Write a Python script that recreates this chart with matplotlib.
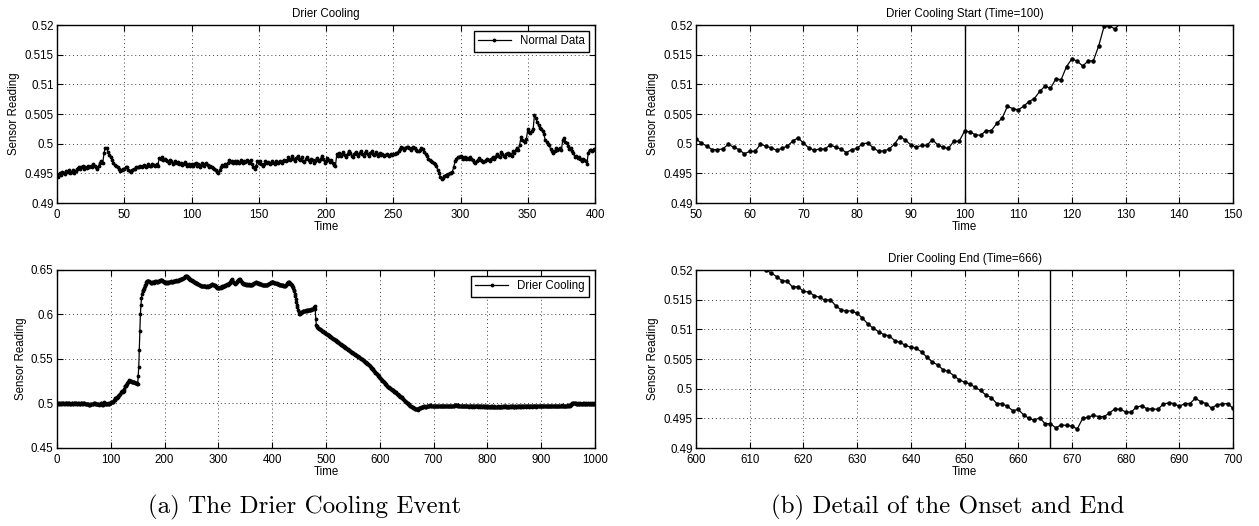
import numpy as np
import matplotlib
matplotlib.use("Agg")
import matplotlib.pyplot as plt
from matplotlib.ticker import MultipleLocator, FuncFormatter

plt.rcParams['font.family'] = ['Liberation Sans', 'DejaVu Sans']

# Sensor readings in units of 1e-4, one sample per time step
normal_e4 = [
    4948, 4944, 4950, 4947, 4953, 4951, 4949, 4954, 4952, 4955, 4951, 4953, 4955, 4950, 4954, 4958, 4961, 4957, 4960, 4962,
    4958, 4961, 4959, 4962, 4960, 4963, 4961, 4965, 4962, 4960, 4958, 4963, 4968, 4970, 4967, 4985, 4993, 4992, 4986, 4981,
    4978, 4972, 4968, 4964, 4963, 4960, 4957, 4954, 4955, 4958, 4957, 4960, 4961, 4956, 4954, 4952, 4956, 4958, 4957, 4960,
    4961, 4960, 4963, 4961, 4962, 4964, 4960, 4962, 4966, 4962, 4963, 4966, 4964, 4962, 4965, 4963, 4976, 4974, 4978, 4973,
    4975, 4973, 4970, 4967, 4972, 4970, 4966, 4968, 4971, 4967, 4969, 4965, 4967, 4964, 4966, 4969, 4965, 4962, 4965, 4963,
    4966, 4962, 4965, 4968, 4963, 4966, 4961, 4964, 4967, 4962, 4965, 4968, 4964, 4961, 4963, 4960, 4959, 4957, 4955, 4953,
    4951, 4956, 4961, 4964, 4962, 4966, 4963, 4968, 4972, 4969, 4971, 4967, 4970, 4968, 4971, 4967, 4969, 4972, 4968, 4971,
    4969, 4973, 4970, 4968, 4972, 4966, 4960, 4957, 4963, 4970, 4967, 4971, 4965, 4962, 4966, 4970, 4967, 4969, 4966, 4968,
    4971, 4968, 4966, 4970, 4967, 4969, 4971, 4968, 4970, 4973, 4970, 4972, 4977, 4973, 4975, 4979, 4974, 4971, 4976, 4980,
    4975, 4972, 4977, 4971, 4969, 4974, 4978, 4972, 4969, 4975, 4972, 4968, 4971, 4976, 4973, 4970, 4975, 4979, 4974, 4968,
    4971, 4976, 4973, 4969, 4972, 4968, 4964, 4962, 4982, 4980, 4984, 4979, 4983, 4986, 4981, 4978, 4983, 4988, 4984, 4980,
    4978, 4983, 4986, 4982, 4979, 4985, 4988, 4983, 4980, 4984, 4988, 4982, 4979, 4985, 4987, 4983, 4981, 4986, 4982, 4980,
    4984, 4981, 4982, 4980, 4981, 4982, 4981, 4980, 4982, 4981, 4983, 4982, 4985, 4984, 4988, 4991, 4994, 4992, 4990, 4993,
    4995, 4994, 4992, 4989, 4993, 4995, 4993, 4990, 4988, 4987, 4990, 4993, 4991, 4986, 4982, 4979, 4975, 4972, 4971, 4969,
    4968, 4965, 4962, 4956, 4950, 4944, 4940, 4942, 4945, 4947, 4946, 4949, 4950, 4951, 4953, 4961, 4971, 4975, 4978, 4977,
    4980, 4977, 4975, 4978, 4975, 4976, 4974, 4977, 4975, 4972, 4969, 4967, 4970, 4973, 4976, 4973, 4971, 4969, 4970, 4972,
    4975, 4973, 4971, 4975, 4977, 4974, 4978, 4983, 4980, 4977, 4986, 4983, 4979, 4978, 4983, 4985, 4981, 4982, 4980, 4988,
    4985, 4989, 4993, 4990, 4998, 5012, 5006, 5004, 5002, 5008, 5024, 5020, 5018, 5021, 5024, 5049, 5043, 5036, 5031, 5026,
    5024, 5021, 5016, 5006, 5003, 4999, 4997, 4991, 4988, 4984, 4987, 4993, 4990, 4991, 4993, 4989, 5006, 5010, 5003, 5001,
    4996, 4991, 4993, 4988, 4985, 4977, 4979, 4976, 4978, 4974, 4971, 4975, 4972, 4970, 4966, 4985, 4990, 4989, 4987, 4991,
    4990,
]

drier_e4 = [
    5002, 4999, 5001, 4998, 5000, 5003, 4999, 4997, 5001, 5000,
    4998, 5002, 5000, 4999, 5001, 4997, 5000, 5002, 4999, 5001,
    4998, 5000, 5003, 5001, 4998, 4996, 4999, 5001, 5000, 4997,
    4999, 5002, 5000, 4998, 5001, 5003, 5000, 4997, 4999, 5002,
    5000, 4998, 4996, 4999, 5001, 5004, 5000, 4997, 4999, 5003,
    5008, 5001, 4996, 4990, 4990, 4991, 4999, 4994, 4990, 4983,
    4987, 4987, 4999, 4996, 4993, 4989, 4992, 4996, 5004, 5010,
    5001, 4993, 4989, 4991, 4991, 4998, 4994, 4991, 4985, 4990,
    4992, 5000, 5001, 4993, 4987, 4988, 4991, 5000, 5012, 5006,
    4998, 4994, 4997, 4997, 5007, 4998, 4994, 4992, 5004, 5004,
    5021, 5020, 5015, 5014, 5022, 5022, 5034, 5043, 5063, 5059,
    5057, 5063, 5071, 5076, 5088, 5097, 5093, 5109, 5108, 5130,
    5143, 5139, 5131, 5139, 5140, 5165, 5198, 5199, 5193, 5203,
    5215, 5228, 5242, 5256, 5262, 5258, 5255, 5250, 5252, 5247,
    5244, 5246, 5240, 5237, 5239, 5233, 5230, 5228, 5226, 5222,
    5218, 5310, 5415, 5600, 5815, 6005, 6105, 6180, 6235, 6260,
    6275, 6290, 6300, 6315, 6330, 6345, 6360, 6372, 6378, 6375,
    6380, 6372, 6366, 6360, 6355, 6352, 6356, 6362, 6366, 6360,
    6355, 6362, 6368, 6372, 6376, 6370, 6364, 6368, 6374, 6378,
    6382, 6384, 6380, 6385, 6388, 6384, 6378, 6372, 6368, 6365,
    6358, 6362, 6356, 6360, 6364, 6358, 6355, 6360, 6365, 6368,
    6364, 6369, 6372, 6366, 6370, 6374, 6368, 6372, 6377, 6380,
    6376, 6380, 6384, 6378, 6382, 6387, 6390, 6385, 6389, 6394,
    6398, 6402, 6396, 6400, 6405, 6410, 6415, 6420, 6428, 6434,
    6436, 6430, 6424, 6418, 6412, 6408, 6402, 6398, 6392, 6388,
    6385, 6380, 6377, 6374, 6370, 6366, 6362, 6358, 6355, 6352,
    6350, 6346, 6342, 6338, 6334, 6330, 6327, 6324, 6322, 6320,
    6318, 6320, 6317, 6315, 6318, 6320, 6316, 6313, 6316, 6319,
    6315, 6312, 6316, 6320, 6325, 6330, 6334, 6337, 6340, 6338,
    6336, 6334, 6330, 6326, 6322, 6318, 6312, 6306, 6302, 6298,
    6295, 6298, 6302, 6305, 6300, 6304, 6310, 6315, 6312, 6318,
    6322, 6318, 6324, 6330, 6326, 6332, 6338, 6334, 6340, 6346,
    6350, 6356, 6362, 6376, 6390, 6395, 6384, 6370, 6360, 6355,
    6350, 6346, 6352, 6358, 6364, 6372, 6380, 6388, 6392, 6396,
    6395, 6385, 6372, 6362, 6355, 6350, 6346, 6342, 6345, 6340,
    6338, 6342, 6336, 6340, 6335, 6330, 6334, 6338, 6332, 6336,
    6333, 6330, 6334, 6338, 6342, 6346, 6350, 6354, 6358, 6360,
    6362, 6358, 6355, 6352, 6356, 6350, 6346, 6342, 6340, 6344,
    6340, 6336, 6332, 6336, 6332, 6328, 6330, 6334, 6330, 6328,
    6330, 6334, 6338, 6342, 6346, 6350, 6354, 6358, 6362, 6366,
    6370, 6366, 6362, 6358, 6355, 6352, 6356, 6352, 6348, 6350,
    6346, 6342, 6338, 6335, 6332, 6330, 6334, 6330, 6327, 6330,
    6326, 6322, 6318, 6315, 6320, 6328, 6335, 6342, 6350, 6358,
    6362, 6366, 6360, 6355, 6348, 6340, 6330, 6320, 6308, 6295,
    6280, 6260, 6235, 6205, 6175, 6145, 6110, 6080, 6050, 6025,
    6005, 6010, 6018, 6025, 6022, 6028, 6032, 6036, 6040, 6038,
    6042, 6038, 6044, 6048, 6044, 6050, 6046, 6052, 6048, 6054,
    6050, 6055, 6052, 6058, 6062, 6058, 6064, 6070, 6085, 6090,
    6060, 5950, 5885, 5866, 5858, 5851, 5846, 5842, 5837, 5833,
    5829, 5825, 5820, 5816, 5812, 5808, 5803, 5799, 5795, 5790,
    5785, 5781, 5777, 5773, 5769, 5765, 5760, 5756, 5752, 5748,
    5744, 5740, 5735, 5730, 5725, 5721, 5717, 5712, 5708, 5703,
    5699, 5694, 5690, 5686, 5681, 5677, 5672, 5667, 5662, 5658,
    5654, 5649, 5645, 5641, 5636, 5632, 5628, 5623, 5619, 5614,
    5610, 5605, 5601, 5597, 5592, 5588, 5583, 5579, 5575, 5570,
    5566, 5562, 5558, 5554, 5550, 5546, 5542, 5538, 5534, 5530,
    5526, 5522, 5518, 5513, 5509, 5504, 5500, 5495, 5491, 5486,
    5481, 5476, 5471, 5466, 5461, 5456, 5451, 5446, 5440, 5434,
    5428, 5422, 5416, 5410, 5403, 5397, 5390, 5383, 5376, 5369,
    5362, 5355, 5348, 5341, 5334, 5327, 5320, 5313, 5306, 5299,
    5292, 5285, 5278, 5271, 5264, 5257, 5250, 5244, 5238, 5232,
    5223, 5214, 5206, 5200, 5195, 5189, 5182, 5181, 5171, 5172,
    5164, 5163, 5157, 5154, 5149, 5150, 5140, 5133, 5131, 5131,
    5127, 5119, 5109, 5102, 5096, 5091, 5089, 5081, 5078, 5073,
    5070, 5068, 5062, 5053, 5045, 5040, 5032, 5029, 5022, 5015,
    5011, 5008, 5002, 4997, 4989, 4985, 4975, 4975, 4970, 4963,
    4965, 4956, 4950, 4947, 4951, 4941, 4941, 4934, 4939, 4938,
    4937, 4932, 4950, 4952, 4955, 4953, 4953, 4959, 4966, 4965,
    4961, 4960, 4969, 4971, 4966, 4966, 4965, 4974, 4976, 4975,
    4970, 4975, 4975, 4984, 4978, 4975, 4967, 4973, 4974, 4975,
    4967, 4971, 4974, 4970, 4968, 4972, 4975, 4971, 4969, 4973,
    4976, 4972, 4970, 4967, 4971, 4974, 4970, 4973, 4977, 4974,
    4971, 4968, 4972, 4975, 4971, 4969, 4973, 4970, 4967, 4971,
    4974, 4972, 4969, 4972, 4975, 4971, 4968, 4972, 4976, 4979,
    4983, 4986, 4982, 4978, 4975, 4979, 4976, 4972, 4970, 4974,
    4971, 4968, 4972, 4975, 4971, 4969, 4973, 4970, 4967, 4971,
    4974, 4970, 4968, 4972, 4969, 4966, 4970, 4973, 4969, 4967,
    4971, 4968, 4965, 4969, 4972, 4968, 4966, 4970, 4973, 4969,
    4967, 4971, 4968, 4965, 4969, 4972, 4968, 4966, 4970, 4967,
    4964, 4968, 4971, 4967, 4965, 4969, 4966, 4963, 4967, 4970,
    4966, 4964, 4968, 4965, 4962, 4966, 4969, 4965, 4963, 4967,
    4964, 4961, 4965, 4968, 4964, 4962, 4966, 4963, 4960, 4964,
    4967, 4963, 4961, 4965, 4962, 4966, 4969, 4965, 4963, 4967,
    4964, 4968, 4971, 4967, 4964, 4968, 4965, 4962, 4966, 4969,
    4965, 4963, 4967, 4964, 4968, 4971, 4967, 4965, 4969, 4966,
    4963, 4967, 4970, 4966, 4964, 4968, 4965, 4969, 4972, 4968,
    4966, 4970, 4967, 4964, 4968, 4971, 4967, 4965, 4969, 4972,
    4968, 4966, 4970, 4973, 4969, 4967, 4971, 4968, 4965, 4969,
    4972, 4968, 4966, 4970, 4967, 4971, 4974, 4970, 4968, 4972,
    4969, 4966, 4970, 4973, 4969, 4967, 4971, 4968, 4972, 4975,
    4971, 4969, 4973, 4970, 4967, 4971, 4974, 4970, 4968, 4972,
    4969, 4973, 4976, 4972, 4970, 4974, 4971, 4968, 4972, 4975,
    4971, 4969, 4973, 4970, 4974, 4977, 4973, 4971, 4975, 4972,
    4969, 4973, 4976, 4972, 4970, 4974, 4971, 4975, 4978, 4974,
    4972, 4976, 4973, 4970, 4974, 4977, 4973, 4971, 4975, 4978,
    4974, 4976, 4979, 4975, 4978, 4982, 4990, 4998, 5004, 5008,
    5006, 5003, 5005, 5001, 4998, 5000, 4997, 4995, 4998, 5000,
    4997, 4995, 4999, 5001, 4998, 4996, 4999, 5002, 4998, 4996,
    5000, 4997, 4995, 4999, 5001, 4998, 4996, 5000, 4997, 4995,
    4999, 5001, 4998, 4996, 4999, 5001, 4997, 4995, 4998, 5000,
    4997,
]

normal = np.array(normal_e4) * 1e-4
drier = np.array(drier_e4) * 1e-4
t_normal = np.arange(len(normal))
t_drier = np.arange(len(drier))

onset_time = 100
end_time = 666

W, H = 1259, 526
fig = plt.figure(figsize=(W / 100, H / 100), dpi=100)


def px_axes(x0, y0, x1, y1):
    return fig.add_axes([x0 / W, 1 - y1 / H, (x1 - x0) / W, (y1 - y0) / H])


FS = 8.3
fmt = FuncFormatter(lambda v, p: f"{v:g}")


def style(ax, xlim, xstep, ylim, ystep, title=None):
    ax.set_xlim(*xlim)
    ax.set_ylim(*ylim)
    ax.xaxis.set_major_locator(MultipleLocator(xstep))
    ax.yaxis.set_major_locator(MultipleLocator(ystep))
    ax.xaxis.set_major_formatter(fmt)
    ax.yaxis.set_major_formatter(fmt)
    ax.tick_params(direction='in', top=True, right=True, length=4, width=0.8,
                   labelsize=FS, colors='black')
    ax.tick_params(axis='x', pad=4)
    ax.tick_params(axis='y', pad=2.5)
    ax.grid(True, color='0.25', linestyle=(0, (1, 3)), linewidth=0.7)
    for s in ax.spines.values():
        s.set_linewidth(1.0)
        s.set_color('black')
    ax.set_xlabel('Time', fontsize=FS, labelpad=0.3)
    ax.set_ylabel('Sensor Reading', fontsize=FS, labelpad=3)
    if title:
        ax.set_title(title, fontsize=FS, pad=6)


line_kw = dict(color='black', linewidth=0.9, marker='.', markersize=3.5)

ax1 = px_axes(57, 25, 595, 203)
ax1.plot(t_normal, normal, label='Normal Data', **line_kw)
style(ax1, (0, 400), 50, (0.49, 0.52), 0.005, 'Drier Cooling')

ax2 = px_axes(57, 270, 595, 448)
ax2.plot(t_drier, drier, label='Drier Cooling', **line_kw)
style(ax2, (0, 1000), 100, (0.45, 0.65), 0.05)

detail_kw = dict(color='black', linewidth=0.9, marker='.', markersize=4.5)

ax3 = px_axes(696, 25, 1233, 203)
ax3.plot(t_drier, drier, **detail_kw)
ax3.axvline(onset_time, color='black', linewidth=1.0)
style(ax3, (50, 150), 10, (0.49, 0.52), 0.005,
      f'Drier Cooling Start (Time={onset_time})')

ax4 = px_axes(696, 270, 1233, 448)
ax4.plot(t_drier, drier, **detail_kw)
ax4.axvline(end_time, color='black', linewidth=1.0)
style(ax4, (600, 700), 10, (0.49, 0.52), 0.005,
      f'Drier Cooling End (Time={end_time})')

for ax in (ax1, ax2):
    leg = ax.legend(loc='upper right', fontsize=FS, frameon=True, fancybox=False,
                    framealpha=1, edgecolor='black', borderaxespad=0.5,
                    handlelength=2.8, handletextpad=0.8, borderpad=0.4,
                    numpoints=1)
    leg.get_frame().set_linewidth(1.0)

fig.text(305 / W, 1 - 507 / H, '(a) The Drier Cooling Event', family='cmr10',
         fontsize=18, ha='center', va='center')
fig.text(948 / W, 1 - 507 / H, '(b) Detail of the Onset and End', family='cmr10',
         fontsize=18, ha='center', va='center')

fig.savefig('out.png', dpi=100)
